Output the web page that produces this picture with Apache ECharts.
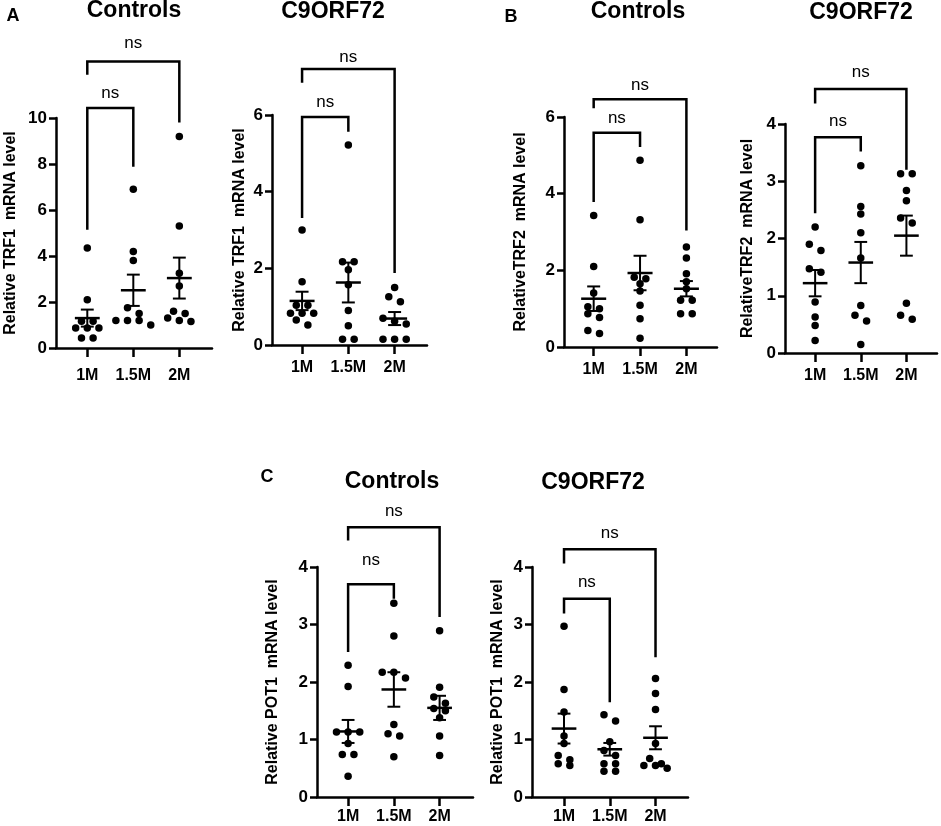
<!DOCTYPE html>
<html>
<head>
<meta charset="utf-8" />
<title></title>
<script type="text/javascript" src="https://cdn.jsdelivr.net/npm/echarts@6/dist/echarts.min.js"></script>
<style>
html, body { margin: 0; padding: 0; background: #fff; }
#container { width: 941px; height: 826px; }
</style>
</head>
<body>
<div id="container"></div>
<script>
var groups = ['1M', '1.5M', '2M'];

// A: TRF1
var trf1Controls = [
  [4.35, 2.1, 1.16, 1.16, 0.87, 0.87, 0.87, 0.43, 0.43],
  [6.9, 4.2, 3.8, 1.75, 1.5, 1.2, 1.2, 1.2, 1.0],
  [9.2, 5.3, 3.25, 2.7, 1.6, 1.5, 1.3, 1.2, 1.15]
];
var trf1ControlsMean = [1.3, 2.51, 3.04];
var trf1ControlsSem = [0.37, 0.68, 0.89];

var trf1C9 = [
  [3.0, 1.65, 1.04, 1.04, 0.83, 0.83, 0.83, 0.65, 0.52],
  [5.22, 2.17, 2.17, 1.96, 1.57, 0.9, 0.5, 0.15, 0.15],
  [1.5, 1.26, 1.13, 0.7, 0.62, 0.55, 0.15, 0.15, 0.15]
];
var trf1C9Mean = [1.15, 1.63, 0.69];
var trf1C9Sem = [0.24, 0.52, 0.17];

// B: TRF2
var trf2Controls = [
  [3.43, 2.1, 1.41, 1.05, 1.0, 0.87, 0.77, 0.43, 0.35],
  [4.87, 3.32, 1.82, 1.78, 1.65, 1.46, 1.09, 0.74, 0.23],
  [2.61, 2.32, 1.91, 1.7, 1.52, 1.22, 1.22, 0.87, 0.87]
];
var trf2ControlsMean = [1.26, 1.93, 1.52];
var trf2ControlsSem = [0.32, 0.45, 0.2];

var trf2C9 = [
  [2.2, 1.9, 1.79, 1.47, 1.41, 0.89, 0.63, 0.48, 0.22],
  [3.27, 2.56, 2.43, 2.1, 1.66, 0.83, 0.66, 0.56, 0.15],
  [3.13, 3.13, 2.84, 2.66, 2.36, 2.27, 0.87, 0.66, 0.59]
];
var trf2C9Mean = [1.22, 1.58, 2.05];
var trf2C9Sem = [0.23, 0.36, 0.35];

// C: POT1
var pot1Controls = [
  [2.29, 1.92, 1.13, 1.13, 1.13, 0.93, 0.74, 0.74, 0.36],
  [3.37, 2.8, 2.17, 2.17, 2.07, 1.26, 1.1, 1.06, 0.7],
  [2.89, 1.91, 1.74, 1.63, 1.54, 1.5, 1.38, 1.06, 0.72]
];
var pot1ControlsMean = [1.14, 1.87, 1.55];
var pot1ControlsSem = [0.2, 0.3, 0.21];

var pot1C9 = [
  [2.97, 1.87, 1.48, 1.06, 0.93, 0.72, 0.65, 0.58, 0.55],
  [1.43, 1.32, 0.96, 0.81, 0.72, 0.58, 0.58, 0.45, 0.45],
  [2.06, 1.8, 1.52, 0.93, 0.67, 0.58, 0.55, 0.55, 0.5]
];
var pot1C9Mean = [1.19, 0.83, 1.03];
var pot1C9Sem = [0.26, 0.11, 0.2];

var FONT = 'Liberation Sans, Arial, sans-serif';
var DOT = 7.5;

// bracket: [x of right end, bar height, left foot, right foot, label height]
var panels = [
  { title: 'Controls', yName: 'Relative TRF1  mRNA level', pts: trf1Controls, mean: trf1ControlsMean, sem: trf1ControlsSem,
    yMax: 10, yStep: 2, left: 56, top: 118, width: 156, height: 230, xMin: -0.68, xMax: 2.71, nameGap: 37, labelMargin: 20,
    brackets: [[1, 10.43, 5.14, 7.88, 11.09], [2, 12.46, 11.88, 9.8, 13.26]], titleX: 134, titleY: 11 },
  { title: 'C9ORF72', yName: 'Relative TRF1  mRNA level', pts: trf1C9, mean: trf1C9Mean, sem: trf1C9Sem,
    yMax: 6, yStep: 2, left: 272, top: 115, width: 155, height: 230, xMin: -0.65, xMax: 2.7, nameGap: 24, labelMargin: 15,
    brackets: [[1, 5.95, 3.31, 5.56, 6.34], [2, 7.2, 6.84, 1.88, 7.51]], titleX: 333, titleY: 12 },
  { title: 'Controls', yName: 'RelativeTRF2  mRNA level', pts: trf2Controls, mean: trf2ControlsMean, sem: trf2ControlsSem,
    yMax: 6, yStep: 2, left: 564, top: 117, width: 153, height: 230, xMin: -0.64, xMax: 2.66, nameGap: 35, labelMargin: 15,
    brackets: [[1, 5.59, 3.78, 5.22, 5.97], [2, 6.46, 6.23, 3.04, 6.83]], titleX: 638, titleY: 12 },
  { title: 'C9ORF72', yName: 'RelativeTRF2  mRNA level', pts: trf2C9, mean: trf2C9Mean, sem: trf2C9Sem,
    yMax: 4, yStep: 1, left: 785, top: 124, width: 152, height: 229, xMin: -0.66, xMax: 2.67, nameGap: 29, labelMargin: 15,
    brackets: [[1, 3.77, 2.44, 3.52, 4.04], [2, 4.61, 4.36, 3.2, 4.9]], titleX: 861, titleY: 13 },
  { title: 'Controls', yName: 'Relative POT1  mRNA level', pts: pot1Controls, mean: pot1ControlsMean, sem: pot1ControlsSem,
    yMax: 4, yStep: 1, left: 317, top: 567, width: 156, height: 230, xMin: -0.68, xMax: 2.73, nameGap: 36, labelMargin: 12,
    brackets: [[1, 3.7, 2.52, 3.45, 4.12], [2, 4.69, 4.46, 3.13, 4.96]], titleX: 392, titleY: 482 },
  { title: 'C9ORF72', yName: 'Relative POT1  mRNA level', pts: pot1C9, mean: pot1C9Mean, sem: pot1C9Sem,
    yMax: 4, yStep: 1, left: 532, top: 567, width: 156, height: 230, xMin: -0.7, xMax: 2.71, nameGap: 26, labelMargin: 12,
    brackets: [[1, 3.45, 3.19, 1.65, 3.74], [2, 4.31, 4.06, 2.43, 4.58]], titleX: 593, titleY: 483 }
];

var letters = [['A', 13, 16], ['B', 511, 17], ['C', 267, 477]];

// spread points of one group sideways, row by row, like a prism scatter
function swarm(values, gi, p) {
  var pxY = p.height / p.yMax;
  var pxX = p.width / (p.xMax - p.xMin);
  var sorted = values.slice().sort(function (a, b) { return b - a; });
  var rows = [], cur = null;
  sorted.forEach(function (v) {
    if (cur && (cur[0] - v) * pxY < DOT * 0.85) cur.push(v);
    else { cur = [v]; rows.push(cur); }
  });
  var step = DOT * 1.55 / pxX;
  var out = [];
  rows.forEach(function (r) {
    r.forEach(function (v, i) { out.push([gi + (i - (r.length - 1) / 2) * step, v]); });
  });
  return out;
}

function renderBracket(params, api) {
  var x2 = api.value(0), yBar = api.value(1), yL = api.value(2), yR = api.value(3), yT = api.value(4);
  var pts = [api.coord([0, yL]), api.coord([0, yBar]), api.coord([x2, yBar]), api.coord([x2, yR])];
  var t = api.coord([x2 / 2, yT]);
  return {
    type: 'group',
    children: [
      { type: 'polyline', shape: { points: pts }, style: { stroke: '#000', lineWidth: 2.5, fill: null } },
      { type: 'text', x: t[0], y: t[1], style: { text: 'ns', fill: '#000', font: '17px ' + FONT, align: 'center', verticalAlign: 'middle' } }
    ]
  };
}

function renderMean(params, api) {
  var gi = api.value(0), m = api.value(1), s = api.value(2);
  var c = api.coord([gi, m]), hi = api.coord([gi, m + s]), lo = api.coord([gi, m - s]);
  var w = api.size([0.27, 0])[0], cw = api.size([0.14, 0])[0];
  var st = { stroke: '#000', lineWidth: 2 };
  return {
    type: 'group',
    children: [
      { type: 'line', shape: { x1: c[0] - w, y1: c[1], x2: c[0] + w, y2: c[1] }, style: { stroke: '#000', lineWidth: 2.5 } },
      { type: 'line', shape: { x1: c[0], y1: hi[1], x2: c[0], y2: lo[1] }, style: st },
      { type: 'line', shape: { x1: c[0] - cw, y1: hi[1], x2: c[0] + cw, y2: hi[1] }, style: st },
      { type: 'line', shape: { x1: c[0] - cw, y1: lo[1], x2: c[0] + cw, y2: lo[1] }, style: st }
    ]
  };
}

var grid = [], xAxis = [], yAxis = [], series = [], graphic = [];

panels.forEach(function (p, i) {
  grid.push({ left: p.left, top: p.top, width: p.width, height: p.height, outerBoundsMode: 'none', containLabel: false });
  xAxis.push({
    type: 'value', gridIndex: i, min: p.xMin, max: p.xMax,
    axisLine: { show: true, onZero: false, lineStyle: { color: '#000', width: 2.5 } },
    axisTick: { show: true, customValues: [0, 1, 2], length: 9, lineStyle: { color: '#000', width: 2.5 } },
    axisLabel: {
      customValues: [0, 1, 2], margin: p.labelMargin, color: '#000', fontSize: 16, fontWeight: 'bold', fontFamily: FONT,
      formatter: function (v) { return groups[Math.round(v)]; }
    },
    splitLine: { show: false }
  });
  yAxis.push({
    type: 'value', gridIndex: i, min: 0, max: p.yMax, interval: p.yStep,
    name: p.yName, nameLocation: 'middle', nameGap: p.nameGap,
    nameTextStyle: { color: '#000', fontSize: 16, fontWeight: 'bold', fontFamily: FONT },
    axisLine: { show: true, onZero: false, lineStyle: { color: '#000', width: 2.5 } },
    axisTick: { show: true, length: 7, lineStyle: { color: '#000', width: 2.5 } },
    axisLabel: { margin: 9, color: '#000', fontSize: 17, fontWeight: 'bold', fontFamily: FONT },
    splitLine: { show: false }
  });

  var dots = [];
  p.pts.forEach(function (vals, gi) { dots = dots.concat(swarm(vals, gi, p)); });
  series.push({
    type: 'scatter', xAxisIndex: i, yAxisIndex: i, data: dots,
    symbol: 'circle', symbolSize: DOT, itemStyle: { color: '#000', opacity: 1 }, silent: true
  });
  series.push({
    type: 'custom', xAxisIndex: i, yAxisIndex: i, renderItem: renderMean, silent: true,
    data: p.mean.map(function (m, gi) { return [gi, m, p.sem[gi]]; }), z: 3
  });
  series.push({
    type: 'custom', xAxisIndex: i, yAxisIndex: i, renderItem: renderBracket, clip: false, silent: true,
    data: p.brackets
  });
  graphic.push({
    type: 'text', x: p.titleX, y: p.titleY,
    style: { text: p.title, fill: '#000', font: 'bold 23px ' + FONT, align: 'center', verticalAlign: 'middle' }
  });
});

letters.forEach(function (l) {
  graphic.push({
    type: 'text', x: l[1], y: l[2],
    style: { text: l[0], fill: '#000', font: 'bold 18px ' + FONT, align: 'center', verticalAlign: 'middle' }
  });
});

var myChart = echarts.init(document.getElementById('container'));
myChart.setOption({
  animation: false,
  backgroundColor: '#fff',
  grid: grid,
  xAxis: xAxis,
  yAxis: yAxis,
  series: series,
  graphic: graphic
});
</script>
</body>
</html>
